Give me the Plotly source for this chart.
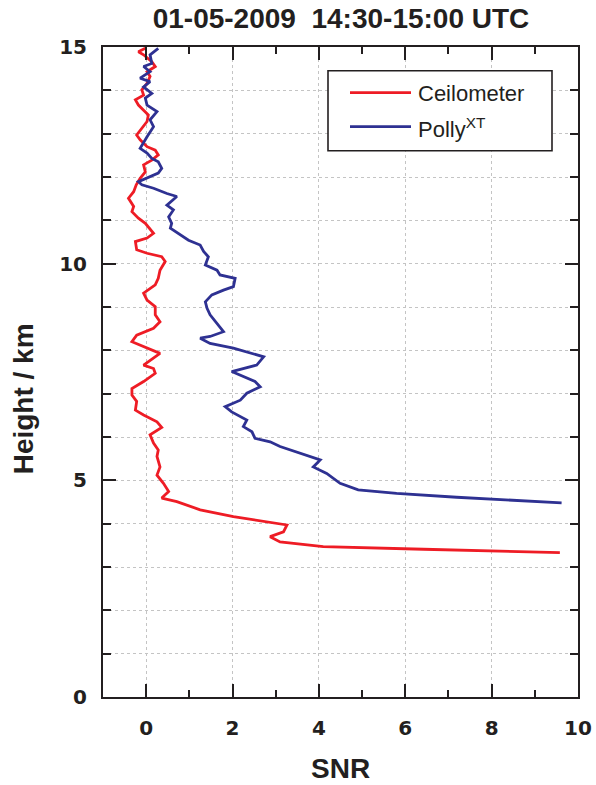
import plotly.graph_objects as go

# ---- data ----
polly_height = [14.97, 14.82, 14.62, 14.55, 14.43, 14.28, 14.20, 14.08, 13.93, 13.82,
                13.66, 13.51, 13.32, 13.16, 12.93, 12.78, 12.66, 12.55, 12.43, 12.35,
                12.20, 12.09, 12.01, 11.89, 11.82, 11.74, 11.62, 11.55, 11.35, 11.24,
                11.08, 10.93, 10.82, 10.66, 10.54, 10.43, 10.28, 10.16, 9.97, 9.85,
                9.74, 9.66, 9.47, 9.39, 9.28, 9.12, 8.97, 8.82, 8.66, 8.43,
                8.32, 8.28, 8.16, 8.05, 7.85, 7.66, 7.51, 7.39, 7.28, 7.16,
                7.01, 6.85, 6.70, 6.58, 6.39, 6.24, 6.12, 5.97, 5.89, 5.78,
                5.62, 5.47, 5.31, 5.16, 4.93, 4.78, 4.70, 4.61, 4.48]
polly_snr = [0.28, 0.09, 0.13, -0.06, 0.09, -0.14, 0.09, -0.06, 0.13, -0.02,
             0.02, 0.25, 0.09, 0.17, 0.02, -0.06, -0.14, 0.02, 0.13, 0.28,
             0.36, 0.28, 0.09, -0.18, -0.10, 0.17, 0.48, 0.71, 0.48, 0.63,
             0.52, 0.59, 0.56, 0.79, 0.98, 1.25, 1.33, 1.44, 1.37, 1.64,
             1.71, 2.06, 2.02, 1.79, 1.52, 1.37, 1.41, 1.48, 1.60, 1.79,
             1.48, 1.25, 1.48, 2.02, 2.72, 2.56, 1.98, 2.25, 2.52, 2.64,
             2.33, 2.18, 1.83, 1.98, 2.33, 2.25, 2.45, 2.52, 2.87, 3.10,
             3.56, 4.03, 3.87, 4.18, 4.49, 4.91, 5.80, 7.19, 9.62]

ceil_height = [14.97, 14.89, 14.82, 14.66, 14.55, 14.43, 14.32, 14.16, 14.01, 13.89,
               13.78, 13.66, 13.54, 13.43, 13.28, 13.12, 12.97, 12.86, 12.70, 12.62,
               12.51, 12.39, 12.28, 12.12, 11.97, 11.82, 11.66, 11.51, 11.32, 11.20,
               11.05, 10.93, 10.70, 10.59, 10.51, 10.32, 10.24, 10.16, 10.05, 9.85,
               9.66, 9.51, 9.32, 9.16, 9.01, 8.82, 8.66, 8.51, 8.35, 8.20,
               8.08, 7.93, 7.66, 7.58, 7.47, 7.28, 7.12, 6.97, 6.82, 6.62,
               6.51, 6.35, 6.22, 6.05, 5.86, 5.70, 5.55, 5.31, 5.12, 4.93,
               4.74, 4.59, 4.51, 4.32, 4.16, 4.05, 3.97, 3.81, 3.70, 3.58,
               3.47, 3.41, 3.33]
ceil_snr = [-0.02, -0.18, -0.06, 0.13, 0.21, 0.02, 0.09, 0.02, -0.10, -0.06,
            -0.25, -0.18, -0.06, 0.05, 0.02, -0.10, -0.22, -0.14, 0.02, 0.21,
            0.28, 0.13, -0.06, -0.02, -0.14, -0.23, -0.29, -0.41, -0.29, -0.33,
            -0.18, -0.02, 0.17, 0.02, -0.25, -0.22, 0.02, 0.36, 0.44, 0.32,
            0.28, 0.21, -0.06, 0.02, 0.21, 0.21, 0.32, 0.17, -0.22, -0.33,
            -0.05, 0.32, -0.06, 0.17, 0.21, -0.06, -0.33, -0.33, -0.22, -0.25,
            -0.06, 0.25, 0.36, 0.09, 0.17, 0.28, 0.25, 0.32, 0.25, 0.40,
            0.52, 0.36, 0.71, 1.25, 2.02, 2.72, 3.26, 3.18, 2.87, 3.10,
            4.10, 6.42, 9.58]

series_names = ["Ceilometer", "Polly<sup>XT</sup>"]
series_colors = ["#ee1c25", "#2e3192"]
title_text = "01-05-2009\u00a0\u00a014:30-15:00 UTC"
x_title = "SNR"
y_title = "Height / km"

AXC = "#231f20"
GRIDC = "#c4c4c4"

fig = go.Figure()
fig.add_trace(go.Scatter(x=ceil_snr, y=ceil_height, mode="lines",
                         line=dict(color=series_colors[0], width=2.8),
                         name=series_names[0], showlegend=False))
fig.add_trace(go.Scatter(x=polly_snr, y=polly_height, mode="lines",
                         line=dict(color=series_colors[1], width=2.8),
                         name=series_names[1], showlegend=False))

tickfont = dict(family="DejaVu Sans", size=20, color=AXC, weight="bold")

fig.update_layout(
    width=596, height=785, autosize=False,
    margin=dict(l=103, r=18, t=47, b=88),
    paper_bgcolor="white", plot_bgcolor="white",
    title=dict(text="<b>" + title_text + "</b>", x=341 / 596, xref="container",
               xanchor="center", y=1 - 18 / 785, yref="container", yanchor="middle",
               font=dict(family="Liberation Sans, Arial", size=28, color=AXC)),
    xaxis=dict(range=[-1, 10], tick0=0, dtick=2, ticks="inside", ticklen=13,
               tickwidth=2, tickcolor=AXC, showline=True, linewidth=2, linecolor=AXC,
               mirror="ticks", showgrid=True, gridcolor=GRIDC, griddash="dot",
               gridwidth=1, zeroline=False, tickfont=tickfont, ticklabelstandoff=12,
               automargin=False,
               minor=dict(tick0=0, dtick=1, ticks="inside", ticklen=7, tickwidth=2,
                          tickcolor=AXC, showgrid=False)),
    yaxis=dict(range=[0, 15], tick0=0, dtick=5, ticks="inside", ticklen=13,
               tickwidth=2, tickcolor=AXC, showline=True, linewidth=2, linecolor=AXC,
               mirror="ticks", showgrid=True, gridcolor=GRIDC, griddash="dot",
               gridwidth=1, zeroline=False, tickfont=tickfont, ticklabelstandoff=10,
               automargin=False,
               minor=dict(tick0=0, dtick=1, ticks="inside", ticklen=8, tickwidth=2,
                          tickcolor=AXC, showgrid=True, gridcolor=GRIDC,
                          griddash="dot", gridwidth=1)),
)

# axis titles
fig.add_annotation(text="<b>" + x_title + "</b>", xref="paper", yref="paper",
                   x=0.499, y=(697 - 768) / 650.0, xanchor="center", yanchor="middle",
                   showarrow=False,
                   font=dict(family="Liberation Sans, Arial", size=28, color=AXC))
fig.add_annotation(text="<b>" + y_title + "</b>", xref="paper", yref="paper",
                   x=-0.167, y=0.459, xanchor="center", yanchor="middle",
                   textangle=-90, showarrow=False,
                   font=dict(family="Liberation Sans, Arial", size=28, color=AXC))

# legend box (drawn manually to match the reference)
def px_x(p):
    return (p - 103) / 475.0

def px_y(p):
    return (697 - p) / 650.0

fig.add_shape(type="rect", xref="paper", yref="paper",
              x0=px_x(328), x1=px_x(552), y0=px_y(150.7), y1=px_y(70.7),
              line=dict(color=AXC, width=1.6), fillcolor="white", layer="above")
for i, ly in enumerate([92.7, 126.7]):
    fig.add_shape(type="line", xref="paper", yref="paper",
                  x0=px_x(350), x1=px_x(411), y0=px_y(ly), y1=px_y(ly),
                  line=dict(color=series_colors[i], width=2.8), layer="above")
    fig.add_annotation(text=series_names[i], xref="paper", yref="paper",
                       x=px_x(416), y=px_y(ly + 1), xanchor="left", yanchor="middle",
                       showarrow=False,
                       font=dict(family="Liberation Sans, Arial", size=22, color=AXC))

fig.write_html("out.html", config={"responsive": False, "displayModeBar": False},
               post_script="document.body.style.margin='0';"
                           "document.body.style.overflow='hidden';")
